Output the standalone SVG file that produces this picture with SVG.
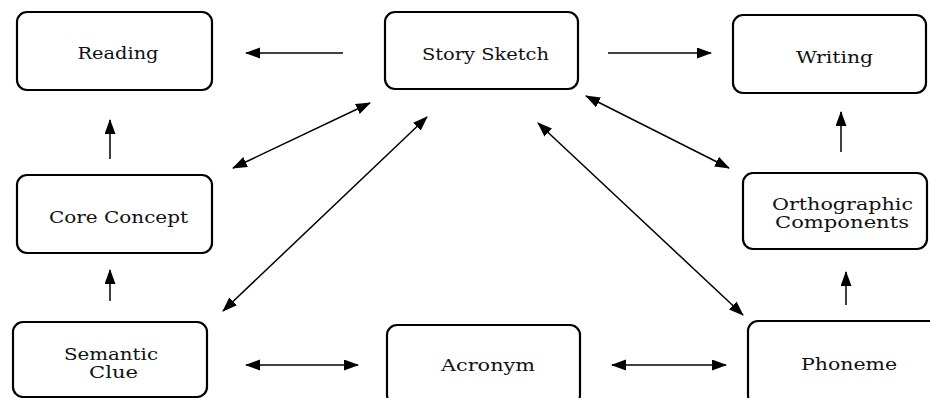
<svg xmlns="http://www.w3.org/2000/svg" width="930" height="398" viewBox="0 0 930 398">
<style>
.box{fill:#fff;stroke:#000;stroke-width:2.2}
.lbl{font-family:"DejaVu Serif","Liberation Serif",serif;font-size:16px;fill:#111;text-anchor:middle}
.con{stroke:#000;stroke-width:1.5;fill:none}
.one{marker-end:url(#ah)}
.two{marker-start:url(#ah);marker-end:url(#ah)}
</style>
<defs>
<marker id="ah" markerUnits="userSpaceOnUse" markerWidth="15" markerHeight="12" refX="14" refY="5.5" orient="auto-start-reverse" viewBox="0 0 15 12">
<path d="M0,0 L15,5.5 L0,11 z" fill="#000"/>
</marker>
</defs>
<rect width="930" height="398" fill="#fff"/>
<g id="connectors">
<line class="con one" x1="343" y1="53" x2="246" y2="53"/>
<line class="con one" x1="608" y1="53" x2="711" y2="53"/>
<line class="con one" x1="110" y1="159" x2="110" y2="120"/>
<line class="con one" x1="110" y1="301" x2="110" y2="270"/>
<line class="con one" x1="841" y1="152" x2="841" y2="112"/>
<line class="con one" x1="846" y1="305" x2="846" y2="272"/>
<line class="con two" x1="246" y1="365" x2="358" y2="365"/>
<line class="con two" x1="612" y1="365" x2="726" y2="365"/>
<line class="con two" x1="233" y1="168" x2="370" y2="103"/>
<line class="con two" x1="223" y1="311" x2="427" y2="117"/>
<line class="con two" x1="538" y1="123" x2="743" y2="315"/>
<line class="con two" x1="586" y1="96" x2="729" y2="168"/>
</g>
<g id="reading">
<rect class="box" x="17" y="12" width="195" height="78" rx="10"/>
<text class="lbl" x="118" y="59" textLength="81" lengthAdjust="spacingAndGlyphs">Reading</text>
</g>
<g id="story-sketch">
<rect class="box" x="385" y="12" width="193" height="77" rx="10"/>
<text class="lbl" x="485.5" y="60" textLength="127" lengthAdjust="spacingAndGlyphs">Story Sketch</text>
</g>
<g id="writing">
<rect class="box" x="733" y="15" width="193" height="78" rx="10"/>
<text class="lbl" x="834.5" y="63" textLength="77" lengthAdjust="spacingAndGlyphs">Writing</text>
</g>
<g id="core-concept">
<rect class="box" x="17" y="175" width="195" height="78" rx="10"/>
<text class="lbl" x="118.5" y="223" textLength="139" lengthAdjust="spacingAndGlyphs">Core Concept</text>
</g>
<g id="orthographic-components">
<rect class="box" x="743" y="173" width="184" height="76" rx="10"/>
<text class="lbl" x="842.5" y="210" textLength="141" lengthAdjust="spacingAndGlyphs">Orthographic</text>
<text class="lbl" x="842" y="228" textLength="134" lengthAdjust="spacingAndGlyphs">Components</text>
</g>
<g id="semantic-clue">
<rect class="box" x="13" y="322" width="194" height="75" rx="10"/>
<text class="lbl" x="111" y="360" textLength="94" lengthAdjust="spacingAndGlyphs">Semantic</text>
<text class="lbl" x="113.5" y="378" textLength="49" lengthAdjust="spacingAndGlyphs">Clue</text>
</g>
<g id="acronym">
<rect class="box" x="387" y="325" width="193" height="80" rx="10"/>
<text class="lbl" x="488" y="371" textLength="94" lengthAdjust="spacingAndGlyphs">Acronym</text>
</g>
<g id="phoneme">
<rect class="box" x="748" y="321" width="195" height="84" rx="10"/>
<text class="lbl" x="849" y="370" textLength="96" lengthAdjust="spacingAndGlyphs">Phoneme</text>
</g>
</svg>
